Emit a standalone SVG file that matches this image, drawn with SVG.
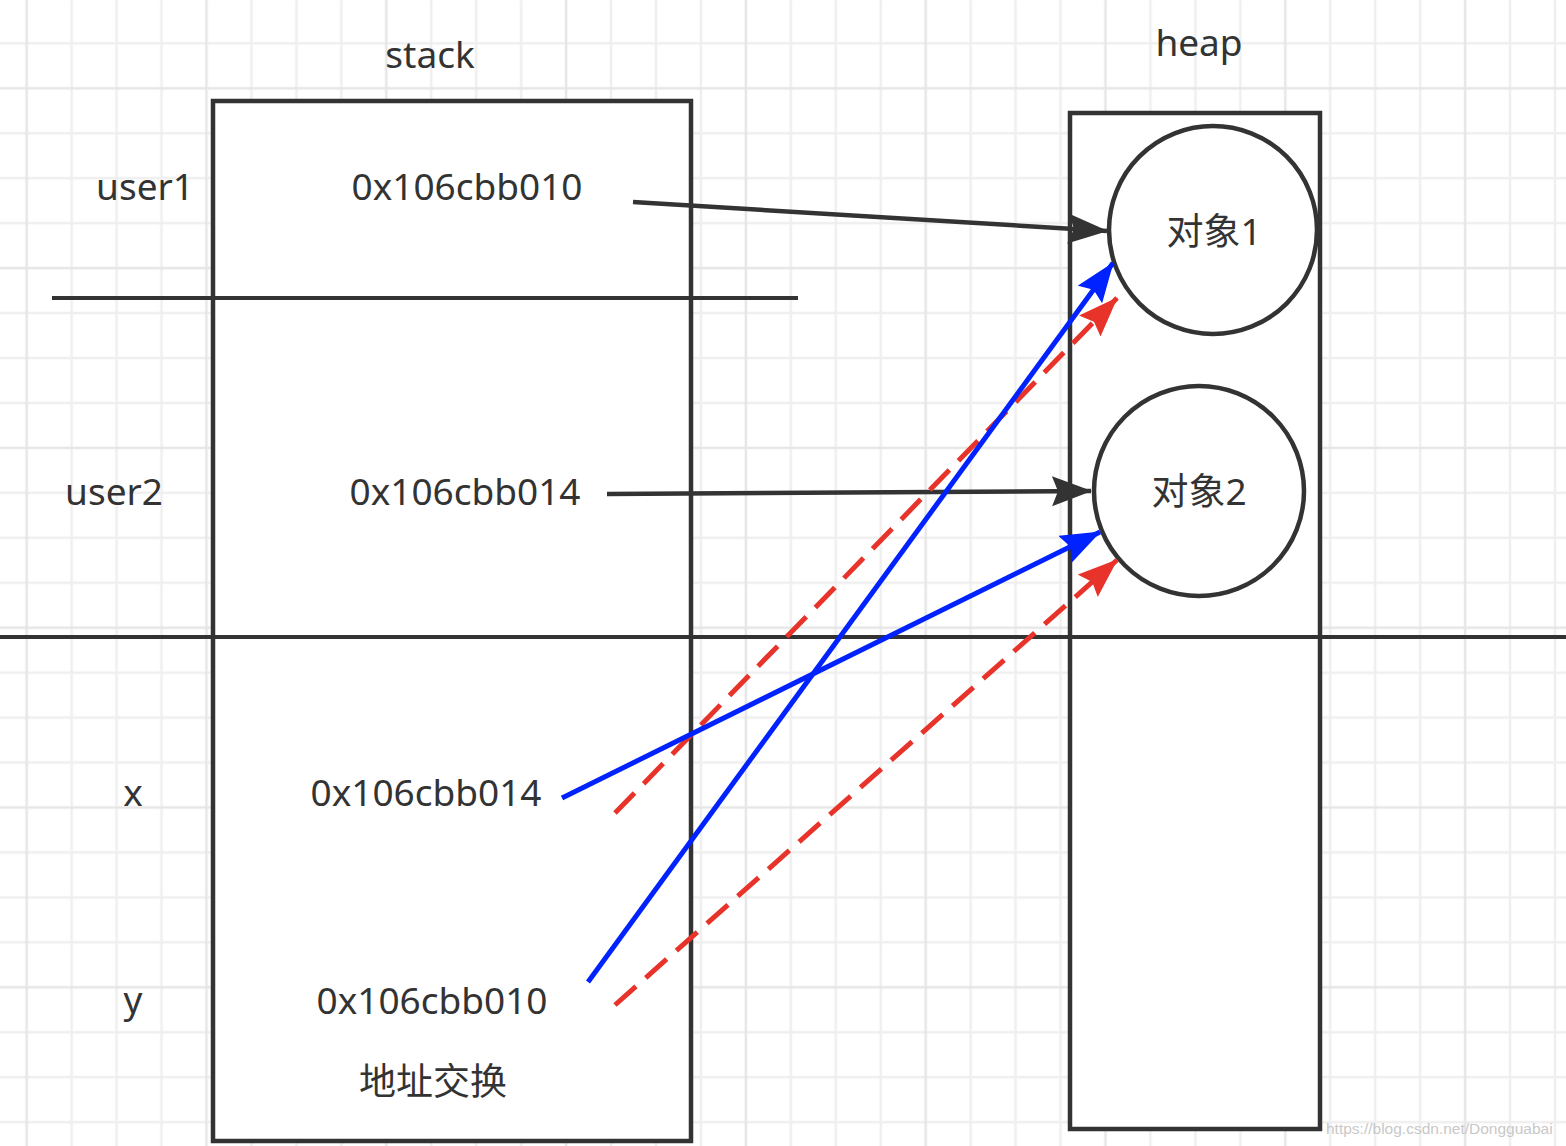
<svg xmlns="http://www.w3.org/2000/svg" width="1566" height="1146" viewBox="0 0 1566 1146">
  <defs>
    <pattern id="grid" patternUnits="userSpaceOnUse" x="16.7" y="78.3" width="179.8" height="179.8">
      <g stroke="#efefef" stroke-width="2.5" fill="none">
        <line x1="54.95" y1="0" x2="54.95" y2="179.8"/>
        <line x1="99.9" y1="0" x2="99.9" y2="179.8"/>
        <line x1="144.85" y1="0" x2="144.85" y2="179.8"/>
        <line x1="0" y1="54.95" x2="179.8" y2="54.95"/>
        <line x1="0" y1="99.9" x2="179.8" y2="99.9"/>
        <line x1="0" y1="144.85" x2="179.8" y2="144.85"/>
      </g>
      <g stroke="#e6e6e6" stroke-width="2.5" fill="none">
        <line x1="10" y1="0" x2="10" y2="179.8"/>
        <line x1="0" y1="10" x2="179.8" y2="10"/>
      </g>
    </pattern>
    <marker id="ahBlack" markerUnits="userSpaceOnUse" markerWidth="44" markerHeight="34" refX="39" refY="15" orient="auto">
      <path d="M0,0 L40,15 L0,30 L6,15 Z" fill="#333333"/>
    </marker>
    <marker id="ahBlue" markerUnits="userSpaceOnUse" markerWidth="44" markerHeight="34" refX="39" refY="15" orient="auto">
      <path d="M0,0 L40,15 L0,30 L6,15 Z" fill="#0022ff"/>
    </marker>
    <marker id="ahRed" markerUnits="userSpaceOnUse" markerWidth="44" markerHeight="34" refX="39" refY="15" orient="auto">
      <path d="M0,0 L40,15 L0,30 L6,15 Z" fill="#e8332a"/>
    </marker>
    <style>
      .box { fill: #ffffff; stroke: #333333; stroke-width: 4.5; }
      .sep { stroke: #333333; stroke-width: 4; fill: none; }
      .lbl { font-family: "Noto Sans", "Noto Sans CJK SC", sans-serif; font-size: 37px; fill: #333333; text-anchor: middle; }
      .black { stroke: #333333; stroke-width: 4.5; fill: none; marker-end: url(#ahBlack); }
      .blue { stroke: #0022ff; stroke-width: 5; fill: none; marker-end: url(#ahBlue); }
      .red { stroke: #e8332a; stroke-width: 5; fill: none; stroke-dasharray: 28 13; marker-end: url(#ahRed); }
      .wm { font-family: "Liberation Sans", Arial, sans-serif; font-size: 15.5px; fill: #c8c8c8; }
    </style>
  </defs>

  <rect x="0" y="0" width="1566" height="1146" fill="#ffffff"/>
  <rect x="0" y="0" width="1566" height="1146" fill="url(#grid)"/>

  <g id="stack">
    <rect class="box" x="213" y="101" width="478" height="1040"/>
    <text class="lbl" x="430" y="68">stack</text>
  </g>

  <g id="heap">
    <rect class="box" x="1070" y="113" width="250" height="1016"/>
    <text class="lbl" x="1199" y="56">heap</text>
  </g>

  <g id="separators">
    <line class="sep" x1="52" y1="298" x2="798" y2="298"/>
    <line class="sep" x1="0" y1="637" x2="1566" y2="637"/>
  </g>

  <g id="obj1">
    <circle class="box" cx="1213" cy="230" r="104"/>
    <text class="lbl" x="1214" y="245">对象1</text>
  </g>

  <g id="obj2">
    <circle class="box" cx="1199" cy="491" r="105"/>
    <text class="lbl" x="1199" y="505">对象2</text>
  </g>

  <g id="row-user1">
    <text class="lbl" x="145" y="200">user1</text>
    <text class="lbl" x="467" y="200">0x106cbb010</text>
  </g>

  <g id="row-user2">
    <text class="lbl" x="114" y="505">user2</text>
    <text class="lbl" x="465" y="505">0x106cbb014</text>
  </g>

  <g id="row-x">
    <text class="lbl" x="133" y="806">x</text>
    <text class="lbl" x="426" y="806">0x106cbb014</text>
  </g>

  <g id="row-y">
    <text class="lbl" x="133" y="1013">y</text>
    <text class="lbl" x="432" y="1014">0x106cbb010</text>
  </g>

  <g id="swap-label">
    <text class="lbl" x="433" y="1095">地址交换</text>
  </g>

  <g id="connectors">
    <line class="black" x1="633" y1="202" x2="1107" y2="231"/>
    <line class="black" x1="607" y1="494" x2="1091" y2="491"/>
    <line class="red" x1="615" y1="813" x2="1117" y2="298"/>
    <line class="red" x1="615" y1="1005" x2="1117" y2="560"/>
    <line class="blue" x1="562" y1="798" x2="1100" y2="532"/>
    <line class="blue" x1="588" y1="982" x2="1113" y2="263"/>
  </g>

  <text class="wm" x="1326" y="1134">https://blog.csdn.net/Dongguabai</text>
</svg>
